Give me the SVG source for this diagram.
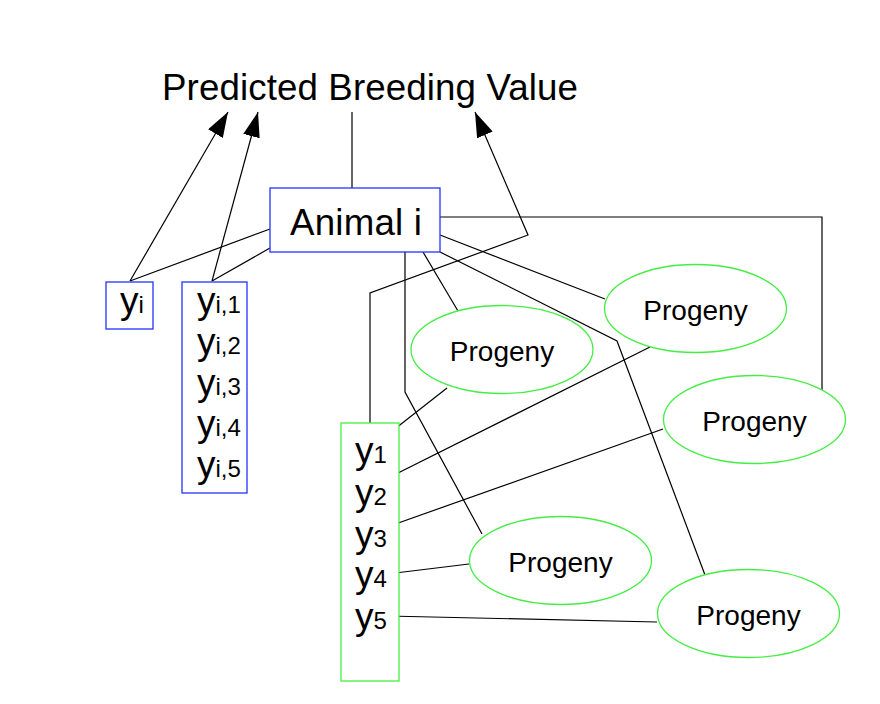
<svg xmlns="http://www.w3.org/2000/svg" width="880" height="704" viewBox="0 0 880 704">
<defs>
<style>
text{font-family:"Liberation Sans",Arial,sans-serif;fill:#000}
.blue{fill:#fff;stroke:#2233ff;stroke-width:1.3}
.green{fill:#fff;stroke:#44ee44;stroke-width:1.3}
.ln{fill:none;stroke:#000;stroke-width:1.2}
.big{font-size:36.7px}
.prog{font-size:28px;text-anchor:middle}
.y{font-size:37px}
.sub{font-size:24px}
</style>
<marker id="ah" viewBox="0 0 25 17" refX="25" refY="8.5" markerWidth="25" markerHeight="17" markerUnits="userSpaceOnUse" orient="auto">
<path d="M0,0 L25,8.5 L0,17 z" fill="#000"/>
</marker>
</defs>
<rect width="880" height="704" fill="#fff"/>
<g id="connectors">
<line class="ln" x1="352" y1="112" x2="352" y2="188"/>
<line class="ln" x1="130" y1="281" x2="228" y2="112" marker-end="url(#ah)"/>
<line class="ln" x1="212" y1="281" x2="258" y2="112" marker-end="url(#ah)"/>
<polyline class="ln" points="370,423 370,293 528,235 475,112" marker-end="url(#ah)"/>
<line class="ln" x1="270" y1="229" x2="130" y2="281"/>
<line class="ln" x1="270" y1="248" x2="212" y2="281"/>
<polyline class="ln" points="440,217 822,217 822,393"/>
<polyline class="ln" points="405,252 405,392 482,534"/>
<line class="ln" x1="423" y1="252" x2="458" y2="311"/>
<line class="ln" x1="440" y1="235" x2="605" y2="299"/>
<polyline class="ln" points="440,252 617,341 705,575"/>
<line class="ln" x1="382" y1="439" x2="447" y2="388"/>
<line class="ln" x1="382" y1="481" x2="650" y2="347"/>
<line class="ln" x1="387" y1="527" x2="663" y2="429"/>
<line class="ln" x1="387" y1="574" x2="469" y2="564"/>
<line class="ln" x1="387" y1="616" x2="657" y2="622"/>
</g>
<g id="title"><text class="big" x="162" y="100" textLength="416">Predicted Breeding Value</text></g>
<g id="animal">
<rect class="blue" x="270" y="188" width="170" height="64"/>
<text class="big" x="290" y="235" textLength="132">Animal i</text>
</g>
<g id="yi">
<rect class="blue" x="106" y="282" width="47" height="47"/>
<text x="120" y="312.5"><tspan class="y">y</tspan><tspan class="sub">i</tspan></text>
</g>
<g id="yij">
<rect class="blue" x="182" y="282" width="65" height="211"/>
<text x="197" y="312.5"><tspan class="y">y</tspan><tspan class="sub">i,1</tspan></text>
<text x="197" y="354"><tspan class="y">y</tspan><tspan class="sub">i,2</tspan></text>
<text x="197" y="395"><tspan class="y">y</tspan><tspan class="sub">i,3</tspan></text>
<text x="197" y="436"><tspan class="y">y</tspan><tspan class="sub">i,4</tspan></text>
<text x="197" y="477"><tspan class="y">y</tspan><tspan class="sub">i,5</tspan></text>
</g>
<g id="ybox">
<rect class="green" x="341" y="423" width="58" height="258"/>
<text x="355" y="463"><tspan class="y">y</tspan><tspan class="sub">1</tspan></text>
<text x="355" y="505"><tspan class="y">y</tspan><tspan class="sub">2</tspan></text>
<text x="355" y="546.5"><tspan class="y">y</tspan><tspan class="sub">3</tspan></text>
<text x="355" y="587"><tspan class="y">y</tspan><tspan class="sub">4</tspan></text>
<text x="355" y="629"><tspan class="y">y</tspan><tspan class="sub">5</tspan></text>
</g>
<g id="progeny1"><ellipse class="green" cx="502" cy="349.5" rx="91" ry="44"/><text class="prog" x="502" y="361">Progeny</text></g>
<g id="progeny2"><ellipse class="green" cx="695.5" cy="308.5" rx="91" ry="44"/><text class="prog" x="695.5" y="320">Progeny</text></g>
<g id="progeny3"><ellipse class="green" cx="754.5" cy="419.5" rx="91" ry="44"/><text class="prog" x="754.5" y="431">Progeny</text></g>
<g id="progeny4"><ellipse class="green" cx="560.5" cy="560.5" rx="91" ry="44"/><text class="prog" x="560.5" y="572">Progeny</text></g>
<g id="progeny5"><ellipse class="green" cx="748.5" cy="613.5" rx="91" ry="44"/><text class="prog" x="748.5" y="625">Progeny</text></g>
</svg>
